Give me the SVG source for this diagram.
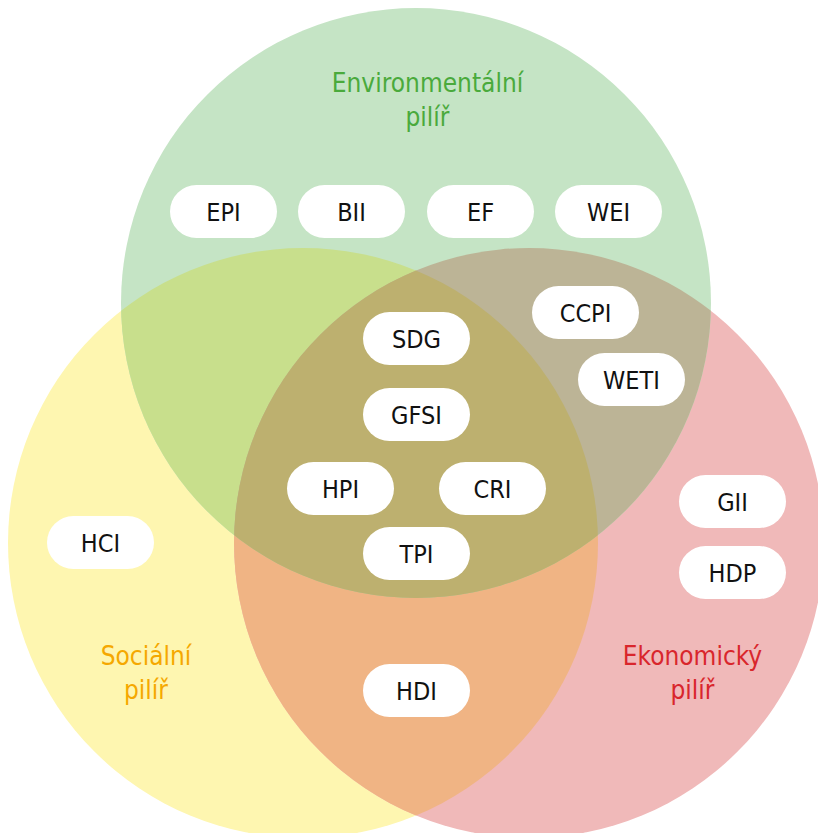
<svg xmlns="http://www.w3.org/2000/svg" width="818" height="833" viewBox="0 0 818 833">
<style>
.pill{fill:#ffffff}
.lbl{font-family:"DejaVu Sans Condensed","DejaVu Sans",sans-serif;font-size:25px;fill:#111111;text-anchor:middle}
.ttl{font-family:"DejaVu Sans Condensed","DejaVu Sans",sans-serif;font-size:26px;text-anchor:middle}
</style>
<defs>
<clipPath id="cG"><circle cx="416" cy="303" r="295"/></clipPath>
<clipPath id="cY"><circle cx="303" cy="543" r="295"/></clipPath>
<clipPath id="cR"><circle cx="529" cy="543" r="295"/></clipPath>
</defs>
<rect width="818" height="833" fill="#ffffff"/>
<g id="sets">
<circle id="social" cx="303" cy="543" r="295" fill="#fef6b0"/>
<circle id="economic" cx="529" cy="543" r="295" fill="#f0b9b9"/>
<circle id="environment" cx="416" cy="303" r="295" fill="#c5e4c5"/>
<g clip-path="url(#cY)"><circle cx="529" cy="543" r="295" fill="#f0b484"/></g>
<g clip-path="url(#cG)"><circle cx="303" cy="543" r="295" fill="#c8df8c"/></g>
<g clip-path="url(#cG)"><circle cx="529" cy="543" r="295" fill="#bcb496"/></g>
<g clip-path="url(#cG)"><g clip-path="url(#cY)"><circle cx="529" cy="543" r="295" fill="#bdb06f"/></g></g>
</g>
<g id="titles">
<text class="ttl" x="427.5" y="92" fill="#4aaa3c">Environmentální</text>
<text class="ttl" x="427.5" y="126" fill="#4aaa3c">pilíř</text>
<text class="ttl" x="146" y="665" fill="#f5a800">Sociální</text>
<text class="ttl" x="146" y="699" fill="#f5a800">pilíř</text>
<text class="ttl" x="692.5" y="665" fill="#d9262c">Ekonomický</text>
<text class="ttl" x="692.5" y="699" fill="#d9262c">pilíř</text>
</g>
<g id="connectors"></g>
<g id="n-EPI"><rect class="pill" x="170" y="185" width="107" height="53" rx="26.5"/><text class="lbl" x="223.5" y="221">EPI</text></g>
<g id="n-BII"><rect class="pill" x="298" y="185" width="107" height="53" rx="26.5"/><text class="lbl" x="351.5" y="221">BII</text></g>
<g id="n-EF"><rect class="pill" x="427" y="185" width="107" height="53" rx="26.5"/><text class="lbl" x="480.5" y="221">EF</text></g>
<g id="n-WEI"><rect class="pill" x="555" y="185" width="107" height="53" rx="26.5"/><text class="lbl" x="608.5" y="221">WEI</text></g>
<g id="n-CCPI"><rect class="pill" x="532" y="286" width="107" height="53" rx="26.5"/><text class="lbl" x="585.5" y="322">CCPI</text></g>
<g id="n-WETI"><rect class="pill" x="578" y="353" width="107" height="53" rx="26.5"/><text class="lbl" x="631.5" y="389">WETI</text></g>
<g id="n-SDG"><rect class="pill" x="363" y="312" width="107" height="53" rx="26.5"/><text class="lbl" x="416.5" y="348">SDG</text></g>
<g id="n-GFSI"><rect class="pill" x="363" y="388" width="107" height="53" rx="26.5"/><text class="lbl" x="416.5" y="424">GFSI</text></g>
<g id="n-HPI"><rect class="pill" x="287" y="462" width="107" height="53" rx="26.5"/><text class="lbl" x="340.5" y="498">HPI</text></g>
<g id="n-CRI"><rect class="pill" x="439" y="462" width="107" height="53" rx="26.5"/><text class="lbl" x="492.5" y="498">CRI</text></g>
<g id="n-TPI"><rect class="pill" x="363" y="527" width="107" height="53" rx="26.5"/><text class="lbl" x="416.5" y="563">TPI</text></g>
<g id="n-HCI"><rect class="pill" x="47" y="516" width="107" height="53" rx="26.5"/><text class="lbl" x="100.5" y="552">HCI</text></g>
<g id="n-GII"><rect class="pill" x="679" y="475" width="107" height="53" rx="26.5"/><text class="lbl" x="732.5" y="511">GII</text></g>
<g id="n-HDP"><rect class="pill" x="679" y="546" width="107" height="53" rx="26.5"/><text class="lbl" x="732.5" y="582">HDP</text></g>
<g id="n-HDI"><rect class="pill" x="363" y="664" width="107" height="53" rx="26.5"/><text class="lbl" x="416.5" y="700">HDI</text></g>
</svg>
